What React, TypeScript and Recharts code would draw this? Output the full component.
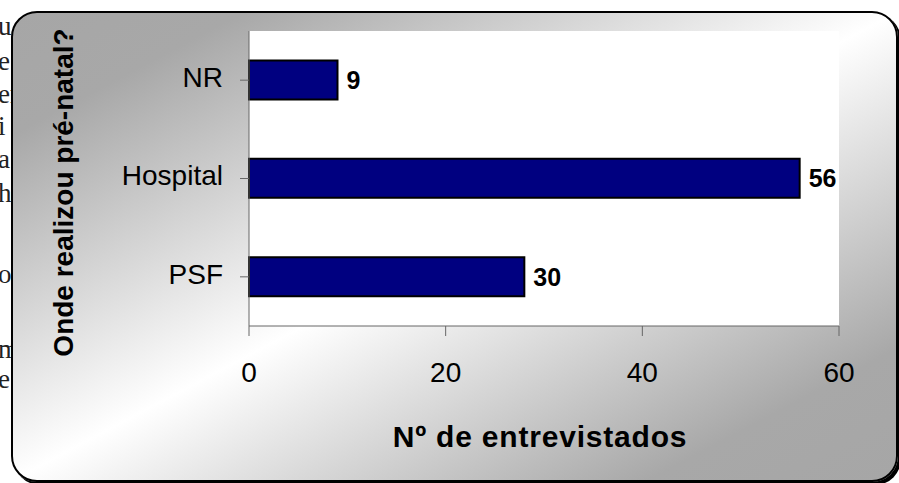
import { BarChart, Bar, XAxis, YAxis, CartesianGrid, LabelList } from 'recharts'

// chart data
const categories = ['NR', 'Hospital', 'PSF']
const barValues = [9, 56, 28]          // bar lengths as drawn
const valueLabels = ['9', '56', '30']  // numbers printed next to the bars
const xTicks = [0, 20, 40, 60]
const yTitle = 'Onde realizou pré-natal?'
const xTitle = 'Nº de entrevistados'

// bits of the page text peeking out from behind the chart frame
const pageFragments = ['u', 'e', 'er', 'i', 'a', 'h', 'o', 'm', 'e']
const fragmentBaselines = [35, 70, 103, 135, 168, 202, 283, 358, 388]

const SANS = '"Liberation Sans", Arial, sans-serif'

const YTitle = (props: any) => {
  const vb = props.viewBox
  const x = vb.x + 73
  const y = vb.y + 161.5
  return (
    <text
      x={x}
      y={y}
      transform={`rotate(-90 ${x} ${y})`}
      textAnchor="middle"
      fontFamily={SANS}
      fontWeight="bold"
      fontSize={28}
      fill="#000"
    >
      {yTitle}
    </text>
  )
}

const XTitle = (props: any) => {
  const vb = props.viewBox
  return (
    <text
      x={vb.x + vb.width / 2 - 4}
      y={447}
      textAnchor="middle"
      fontFamily={SANS}
      fontWeight="bold"
      fontSize={30}
      letterSpacing={0.8}
      fill="#000"
    >
      {xTitle}
    </text>
  )
}

export default function App() {
  const data = categories.map((name, i) => ({ name, value: barValues[i], label: valueLabels[i] }))

  return (
    <div style={{ position: 'fixed', left: 0, top: 0, width: 899, height: 483, overflow: 'hidden', background: '#fff' }}>
      <svg width={899} height={483} style={{ position: 'absolute', left: 0, top: 0 }}>
        {pageFragments.map((t, i) => (
          <text key={i} x={-2} y={fragmentBaselines[i]} fontFamily='"Liberation Serif", "Times New Roman", serif' fontSize={27} fill="#222">
            {t}
          </text>
        ))}
      </svg>

      {/* rounded chart frame, diagonal grey-white-grey fill */}
      <div
        style={{
          position: 'absolute',
          left: 11,
          top: 11,
          width: 887,
          height: 471,
          boxSizing: 'border-box',
          border: '2px solid #000',
          borderRadius: 26,
          background:
            'linear-gradient(to bottom right, #a6a6a6 0%, #a8a8a8 13%, #ffffff 50%, #a8a8a8 86%, #a6a6a6 100%)',
          boxShadow: '3px 3px 0 #000',
        }}
      />

      <div style={{ position: 'absolute', left: 0, top: 0 }}>
        <BarChart
          width={899}
          height={483}
          data={data}
          layout="vertical"
          margin={{ top: 31, right: 60, bottom: 0, left: 0 }}
          barCategoryGap="30%"
        >
          <CartesianGrid horizontal={false} vertical={false} fill="#fff" stroke="none" />
          <XAxis
            type="number"
            domain={[0, 60]}
            ticks={xTicks}
            height={157}
            tickSize={10}
            tickMargin={26}
            axisLine={{ stroke: '#666' }}
            tickLine={{ stroke: '#666' }}
            tick={{ fill: '#000', fontSize: 28, fontFamily: SANS }}
            label={{ content: XTitle }}
          />
          <YAxis
            type="category"
            dataKey="name"
            width={249}
            tickSize={9}
            tickMargin={17}
            axisLine={{ stroke: '#666' }}
            tickLine={{ stroke: '#666' }}
            tick={{ fill: '#000', fontSize: 28, fontFamily: SANS, dy: -3 }}
            label={{ content: YTitle }}
          />
          <Bar dataKey="value" fill="#000080" stroke="#000" strokeWidth={2} isAnimationActive={false}>
            <LabelList
              dataKey="label"
              position="right"
              offset={9}
              fill="#000"
              fontSize={25}
              fontWeight="bold"
              fontFamily={SANS}
            />
          </Bar>
        </BarChart>
      </div>
    </div>
  )
}
